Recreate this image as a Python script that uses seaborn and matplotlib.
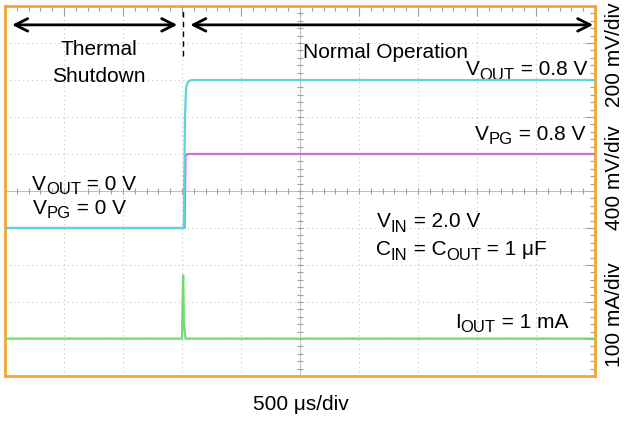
import numpy as np
import pandas as pd
import matplotlib
matplotlib.use("Agg")
import matplotlib.pyplot as plt
import matplotlib.transforms as mtransforms
import seaborn as sns

# Scope settings
time_per_div_us = 500      # µs/div
vout_per_div = 0.2         # V/div
vpg_per_div = 0.4          # V/div
iout_per_div = 100         # mA/div
vout_ground_div = 4
vpg_ground_div = 4
iout_ground_div = 1
shutdown_end_us = 1510

# Captured waveforms
vout_time_us = [0, 1515, 1525, 1535, 1550, 1580, 5000]
vout_volts = [0, 0, 0.60, 0.76, 0.79, 0.80, 0.80]
vpg_time_us = [0, 1522, 1530, 1545, 5000]
vpg_volts = [0, 0, 0.78, 0.80, 0.80]
iout_time_us = [0, 1500, 1505, 1510, 1516, 1530, 5000]
iout_ma = [1, 1, 110, 172, 40, 1, 1]

CYAN = "#5ad6dc"
MAGENTA = "#cf6fd6"
GREEN = "#6fdc6f"
ORANGE = "#f0a830"

sns.set_style("white")
plt.rcParams["font.family"] = ["Liberation Sans", "DejaVu Sans"]
plt.rcParams["text.color"] = "black"

W, H = 626, 421
fig = plt.figure(figsize=(W / 100, H / 100), dpi=100)
ax = fig.add_axes([5 / W, 45 / H, 590 / W, 370 / H])


def trace(t, y, per_div, ground):
    return pd.DataFrame({
        "div_x": np.asarray(t, float) / time_per_div_us,
        "div_y": np.asarray(y, float) / per_div + ground,
    })


pg = trace(vpg_time_us, vpg_volts, vpg_per_div, vpg_ground_div)
vo = trace(vout_time_us, vout_volts, vout_per_div, vout_ground_div)
io = trace(iout_time_us, iout_ma, iout_per_div, iout_ground_div)

sns.lineplot(data=io, x="div_x", y="div_y", color=GREEN, lw=1.6,
             estimator=None, sort=False, ax=ax, zorder=3)
sns.lineplot(data=pg, x="div_x", y="div_y", color=MAGENTA, lw=1.6,
             estimator=None, sort=False, ax=ax, zorder=3)
sns.lineplot(data=vo, x="div_x", y="div_y", color=CYAN, lw=1.6,
             estimator=None, sort=False, ax=ax, zorder=4)

# Graticule
ax.set_xlim(0, 10)
ax.set_ylim(0, 10)
ax.set_xticks(np.arange(0, 11))
ax.set_yticks(np.arange(0, 11))
ax.set_xticks(np.arange(0, 10.01, 0.2), minor=True)
ax.set_yticks(np.arange(0, 10.01, 0.2), minor=True)
ax.tick_params(which="both", direction="in", top=True, right=True,
               labelbottom=False, labelleft=False, color="#a0a0a0", width=0.8)
ax.tick_params(which="major", length=7)
ax.tick_params(which="minor", length=3.5)
ax.grid(True, which="major", color="#c4c4c4", lw=0.8, ls=(0, (1, 3)))
ax.set_xlabel("")
ax.set_ylabel("")
ax.axhline(5, color="#b8b8b8", lw=0.6, zorder=1)
ax.axvline(5, color="#b8b8b8", lw=0.6, zorder=1)
minor = np.arange(0, 10.01, 0.2)
ax.vlines(minor, 5 - 0.08, 5 + 0.08, color="#a0a0a0", lw=0.8, zorder=1)
ax.hlines(minor, 5 - 0.05, 5 + 0.05, color="#a0a0a0", lw=0.8, zorder=1)
for s in ax.spines.values():
    s.set_color(ORANGE)
    s.set_linewidth(2)

# Region arrows
split = shutdown_end_us / time_per_div_us
arrow = dict(arrowstyle="<->,head_length=0.9,head_width=0.45", lw=2, color="black",
             shrinkA=0, shrinkB=0)
ax.annotate("", xy=(0.12, 9.49), xytext=(split - 0.1, 9.49), arrowprops=arrow)
ax.annotate("", xy=(split + 0.12, 9.49), xytext=(9.97, 9.49), arrowprops=arrow)
ax.plot([split, split], [8.65, 10], color="black", lw=1, ls=(0, (4, 3)))

fs = 15
SUB_SCALE = 0.8
SUB_DROP = 4.5  # pixels
renderer = fig.canvas.get_renderer()


def at(px, py):
    return ((px - 5) / 59.0, (376 - py) / 37.0)


def rich(px, py, pieces, ha="left"):
    """Draw a label made of normal and subscript runs on one baseline."""
    x, y = at(px, py)
    sized = []
    for s, sub in pieces:
        size = fs * SUB_SCALE if sub else fs
        t = ax.text(x, y, s, fontsize=size)
        w = t.get_window_extent(renderer).width
        t.remove()
        sized.append((s, size, sub, w))
    total = sum(w for *_, w in sized)
    dx = 0.0 if ha == "left" else -total
    for s, size, sub, w in sized:
        tr = mtransforms.offset_copy(ax.transData, fig=fig, x=dx,
                                     y=-SUB_DROP if sub else 0, units="dots")
        ax.text(x, y, s, fontsize=size, transform=tr, ha="left", va="baseline",
                color="black")
        dx += w


ax.text(*at(98.5, 55), "Thermal", ha="center", va="baseline", fontsize=fs, color="black")
ax.text(*at(98.5, 82), "Shutdown", ha="center", va="baseline", fontsize=fs, color="black")
ax.text(*at(303, 58), "Normal Operation", ha="left", va="baseline", fontsize=fs, color="black")
rich(587, 75, [("V", 0), ("OUT", 1), (" = 0.8 V", 0)], ha="right")
rich(585, 140, [("V", 0), ("PG", 1), (" = 0.8 V", 0)], ha="right")
rich(32, 190, [("V", 0), ("OUT", 1), (" = 0 V", 0)])
rich(33, 214, [("V", 0), ("PG", 1), (" = 0 V", 0)])
rich(377, 227, [("V", 0), ("IN", 1), (" = 2.0 V", 0)])
rich(376, 255, [("C", 0), ("IN", 1), (" = C", 0), ("OUT", 1), (" = 1 μF", 0)])
rich(568, 328, [("I", 0), ("OUT", 1), (" = 1 mA", 0)], ha="right")

fig.text(301 / W, 1 - 405 / H, "500 μs/div", ha="center", va="center", fontsize=fs,
         color="black")
for label, yc in [("200 mV/div", 55), ("400 mV/div", 178), ("100 mA/div", 315)]:
    fig.text(614 / W, 1 - yc / H, label, rotation=90, ha="center", va="center",
             fontsize=fs, color="black")

fig.savefig("out.png", dpi=100)
